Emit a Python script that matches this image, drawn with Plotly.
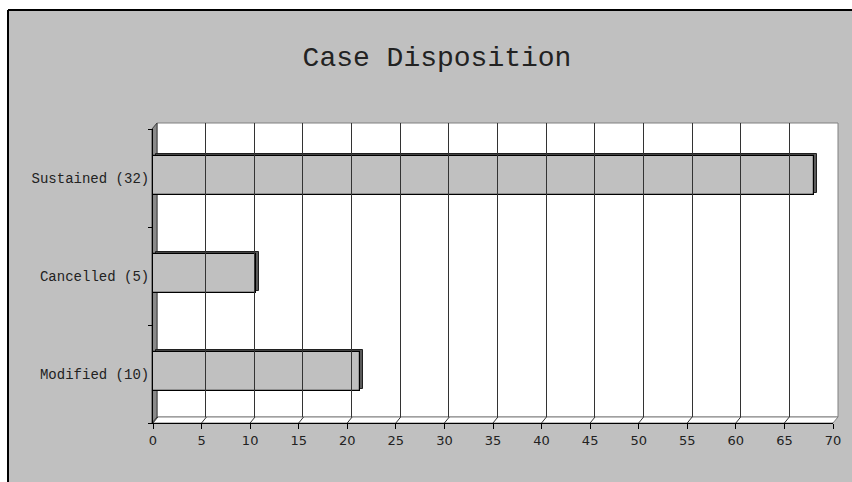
import plotly.graph_objects as go

# Case outcomes (bottom to top as drawn)
categories = ["Modified", "Cancelled", "Sustained"]
counts = [10, 5, 32]
axis_ticks = list(range(0, 75, 5))

total = sum(counts)
shares = [c / total * 100 for c in counts]
labels = [f"{c} ({n})" for c, n in zip(categories, counts)]

W, H = 852, 482


def px(x):
    return x / W


def py(y):
    return 1 - y / H


fig = go.Figure()

# depth face of each bar (top edge + right side)
fig.add_trace(go.Bar(
    y=labels, x=shares, base=0.3, orientation="h",
    width=0.4, offset=-0.155,
    marker=dict(color="#5a5a5a", line=dict(color="#202020", width=1)),
    hoverinfo="skip", showlegend=False, xaxis="x", yaxis="y",
))
# front face
fig.add_trace(go.Bar(
    y=labels, x=shares, orientation="h",
    width=0.4, offset=-0.175,
    marker=dict(color="#c0c0c0", line=dict(color="#000000", width=1.2)),
    showlegend=False, xaxis="x", yaxis="y",
))
# back wall grid carrier
fig.add_trace(go.Scatter(x=[], y=[], xaxis="x2", yaxis="y2",
                         showlegend=False, hoverinfo="skip"))

shapes = [
    # chart area background with black top/left edge
    dict(type="rect", xref="paper", yref="paper",
         x0=px(8), x1=1.0, y0=0.0, y1=py(10),
         fillcolor="#c0c0c0", line=dict(width=0), layer="below"),
    dict(type="line", xref="paper", yref="paper",
         x0=px(8), x1=1.0, y0=py(10), y1=py(10),
         line=dict(color="#000", width=2), layer="below"),
    dict(type="line", xref="paper", yref="paper",
         x0=px(8), x1=px(8), y0=py(10), y1=0.0,
         line=dict(color="#000", width=2), layer="below"),
    # back wall
    dict(type="rect", xref="paper", yref="paper",
         x0=px(157), x1=px(838), y0=py(417), y1=py(123),
         fillcolor="#ffffff", line=dict(color="#808080", width=1), layer="below"),
    # floor
    dict(type="path", xref="paper", yref="paper",
         path=f"M {px(152)} {py(423)} L {px(157)} {py(417)} L {px(838)} {py(417)} L {px(833)} {py(423)} Z",
         fillcolor="#ffffff", line=dict(color="#808080", width=1), layer="below"),
    # left wall
    dict(type="path", xref="paper", yref="paper",
         path=f"M {px(152)} {py(129)} L {px(157)} {py(123)} L {px(157)} {py(417)} L {px(152)} {py(423)} Z",
         fillcolor="#8a8a8a", line=dict(color="#404040", width=1), layer="below"),
]
# floor tick connectors
for v in axis_ticks:
    shapes.append(dict(type="line", xref="x", yref="paper",
                       x0=v, x1=v + 0.5, y0=py(423), y1=py(417),
                       line=dict(color="#333", width=1), layer="below"))

fig.update_layout(
    width=W, height=H, autosize=False,
    margin=dict(l=0, r=0, t=0, b=0, autoexpand=False),
    paper_bgcolor="#ffffff", plot_bgcolor="rgba(0,0,0,0)",
    bargap=0, barmode="overlay",
    shapes=shapes,
    title=dict(text="Case Disposition", x=px(437), xanchor="center",
               y=py(56), yanchor="middle",
               font=dict(family="Liberation Mono", size=28, color="#222")),
    xaxis=dict(domain=[px(153), px(833)], anchor="y", range=[0, 70],
               automargin=False,
               tickmode="array", tickvals=axis_ticks,
               ticktext=[str(v) for v in axis_ticks],
               showline=True, linecolor="#000", linewidth=1,
               ticks="outside", ticklen=5, tickcolor="#000",
               showgrid=False, zeroline=False,
               tickfont=dict(family="DejaVu Sans", size=13, color="#222")),
    yaxis=dict(domain=[py(423), py(129)], anchor="x", type="category",
               automargin=False,
               categoryorder="array", categoryarray=labels,
               range=[-0.5, 2.5],
               showline=True, linecolor="#000", linewidth=1,
               ticks="outside", ticklen=4, tickcolor="#000",
               tickson="boundaries",
               showgrid=False, zeroline=False,
               tickfont=dict(family="Liberation Mono", size=14, color="#222")),
    xaxis2=dict(domain=[px(157), px(838)], anchor="y2", range=[0, 70],
                automargin=False,
                tickmode="array", tickvals=axis_ticks,
                showgrid=True, gridcolor="#333", gridwidth=1,
                showticklabels=False, ticks="", showline=False, zeroline=False),
    yaxis2=dict(domain=[py(417), py(123)], anchor="x2", range=[0, 1],
                automargin=False,
                showgrid=False, showticklabels=False, ticks="",
                showline=False, zeroline=False),
)

fig.write_html("out.html")
